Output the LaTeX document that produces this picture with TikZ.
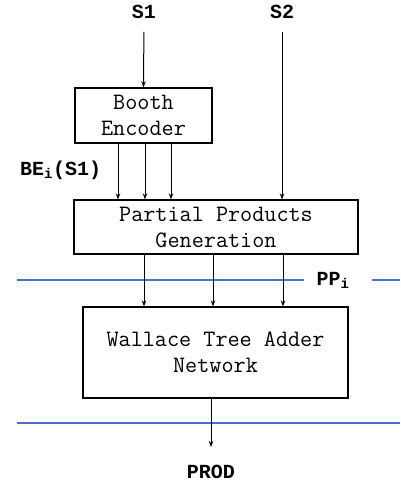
\documentclass[tikz,border=0pt]{standalone}
\usepackage{fontspec}
\newfontfamily\lblfont{Liberation Mono}
\usetikzlibrary{arrows.meta}
\definecolor{sepblue}{RGB}{68,114,196}
\begin{document}
\begin{tikzpicture}[x=1pt,y=-1pt,
 blk/.style={draw,line width=1.3pt,align=center,font=\ttfamily\fontsize{23.5}{26}\selectfont,inner sep=0pt},
 lbl/.style={font=\lblfont\bfseries\fontsize{20}{24}\selectfont,inner sep=0pt},
 arr/.style={-{Stealth[length=6pt,width=4.5pt]},line width=1pt},
 sepline/.style={draw=sepblue,line width=2pt}]
\useasboundingbox (0,0) rectangle (400,485);
% separator lines
\draw[sepline] (17,280) -- (304,280);
\draw[sepline] (372,280) -- (400,280);
\draw[sepline] (17,423) -- (400,423);
% blocks
\node[blk,minimum width=137pt,minimum height=55pt] (be) at (143.5,115.5) {Booth\\Encoder};
\node[blk,minimum width=284pt,minimum height=54pt] (pp) at (216,227) {Partial Products\\Generation};
\node[blk,minimum width=265pt,minimum height=91pt] (wal) at (215.5,352.5) {Wallace Tree Adder\\Network};
% labels
\node[lbl] (s1) at (144,12) {S1};
\node[lbl] (s2) at (282,12) {S2};
\node[lbl,anchor=west] (bel) at (20,170) {BE\textsubscript{i}(S1)};
\node[lbl] (ppl) at (333,280) {PP\textsubscript{i}};
\node[lbl] (prod) at (211,472) {PROD};
\coordinate (out) at (211,447);
% arrows
\draw[arr,shorten <=13pt] (s1.south) -- (be.north);
\draw[arr,shorten <=13pt] (s2.south) -- (s2.south |- pp.north);
\foreach \dx in {-25.5,1.5,27.5}
  \draw[arr] ([xshift=\dx pt]be.south) -- ([xshift=\dx pt]be.south |- pp.north);
\foreach \xx in {144,213,283}
  \draw[arr] (pp.south -| \xx,0) -- (wal.north -| \xx,0);
\draw[arr] (wal.south -| out) -- (out);
\end{tikzpicture}
\end{document}
